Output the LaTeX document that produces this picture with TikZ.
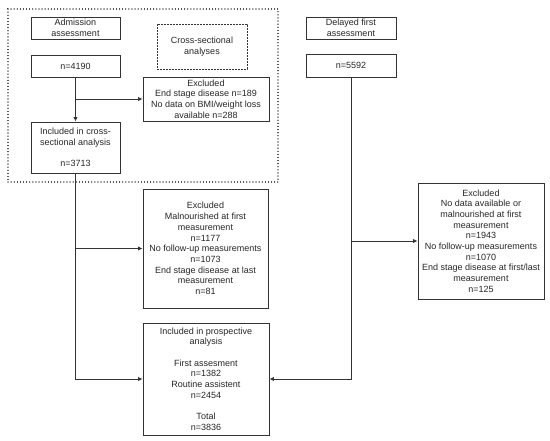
\documentclass[tikz,border=0pt]{standalone}
\usepackage{fontspec}
\setmainfont{Liberation Sans}
\usetikzlibrary{arrows.meta}
\definecolor{ln}{HTML}{333333}
\begin{document}
\begin{tikzpicture}[x=1pt,y=-1pt,
  box/.style={draw=ln, line width=0.9pt, align=center, inner sep=0pt, text=black!85,
    font=\fontsize{9}{10.7}\selectfont},
  conn/.style={draw=ln, line width=0.9pt},
  arr/.style={conn, -{Latex[length=4.5pt,width=4.5pt]}}]
\useasboundingbox (0,0) rectangle (550,440);
% dotted group
\node[draw=ln, line width=1.1pt, dash pattern=on 0.1pt off 3pt, line cap=round,
  minimum width=270pt, minimum height=173pt, inner sep=0pt] (grp) at (143,95.5) {};
\node[box, draw=ln, dash pattern=on 1.6pt off 1.4pt, minimum width=90pt, minimum height=45pt] (cs) at (202,46.5) {Cross-sectional\\analyses};
\node[box, minimum width=89pt, minimum height=22pt] (adm) at (75.5,28) {Admission\\assessment};
\node[box, minimum width=89pt, minimum height=22pt] (n1) at (75.5,66) {n=4190};
\node[box, minimum width=126pt, minimum height=44pt] (ex1) at (206,99) {Excluded\\End stage disease n=189\\No data on BMI/weight loss\\available n=288};
\node[box, minimum width=89pt, minimum height=51pt] (inc) at (75.5,147.5) {Included in cross-\\sectional analysis\\[10.7pt]n=3713};
\node[box, minimum width=90pt, minimum height=22pt] (del) at (351,28) {Delayed first\\assessment};
\node[box, minimum width=90pt, minimum height=23pt] (n2) at (351,65.5) {n=5592};
\node[box, minimum width=125pt, minimum height=119pt] (ex2) at (205.5,248.5) {Excluded\\Malnourished at first\\measurement\\n=1177\\No follow-up measurements\\n=1073\\End stage disease at last\\measurement\\n=81};
\node[box, minimum width=126pt, minimum height=116pt] (ex3) at (481,241) {Excluded\\No data available or\\malnourished at first\\measurement\\n=1943\\No follow-up measurements\\n=1070\\End stage disease at first/last\\measurement\\n=125};
\node[box, minimum width=126pt, minimum height=112pt] (pro) at (206,379) {Included in prospective\\analysis\\[10.7pt]First assesment\\n=1382\\Routine assistent\\n=2454\\[10.7pt]Total\\n=3836};
% connectors
\coordinate (b1) at (n1.south |- ex1.west);
\coordinate (b2) at (inc.south |- ex2.west);
\coordinate (c1) at (inc.south |- pro.west);
\coordinate (b3) at (n2.south |- ex3.west);
\coordinate (c2) at (n2.south |- pro.east);
\draw[arr] (n1.south) -- (inc.north);
\draw[arr] (b1) -- (ex1.west);
\draw[arr] (inc.south) -- (c1) -- (pro.west);
\draw[arr] (b2) -- (ex2.west);
\draw[arr] (n2.south) -- (c2) -- (pro.east);
\draw[arr] (b3) -- (ex3.west);
\end{tikzpicture}
\end{document}
